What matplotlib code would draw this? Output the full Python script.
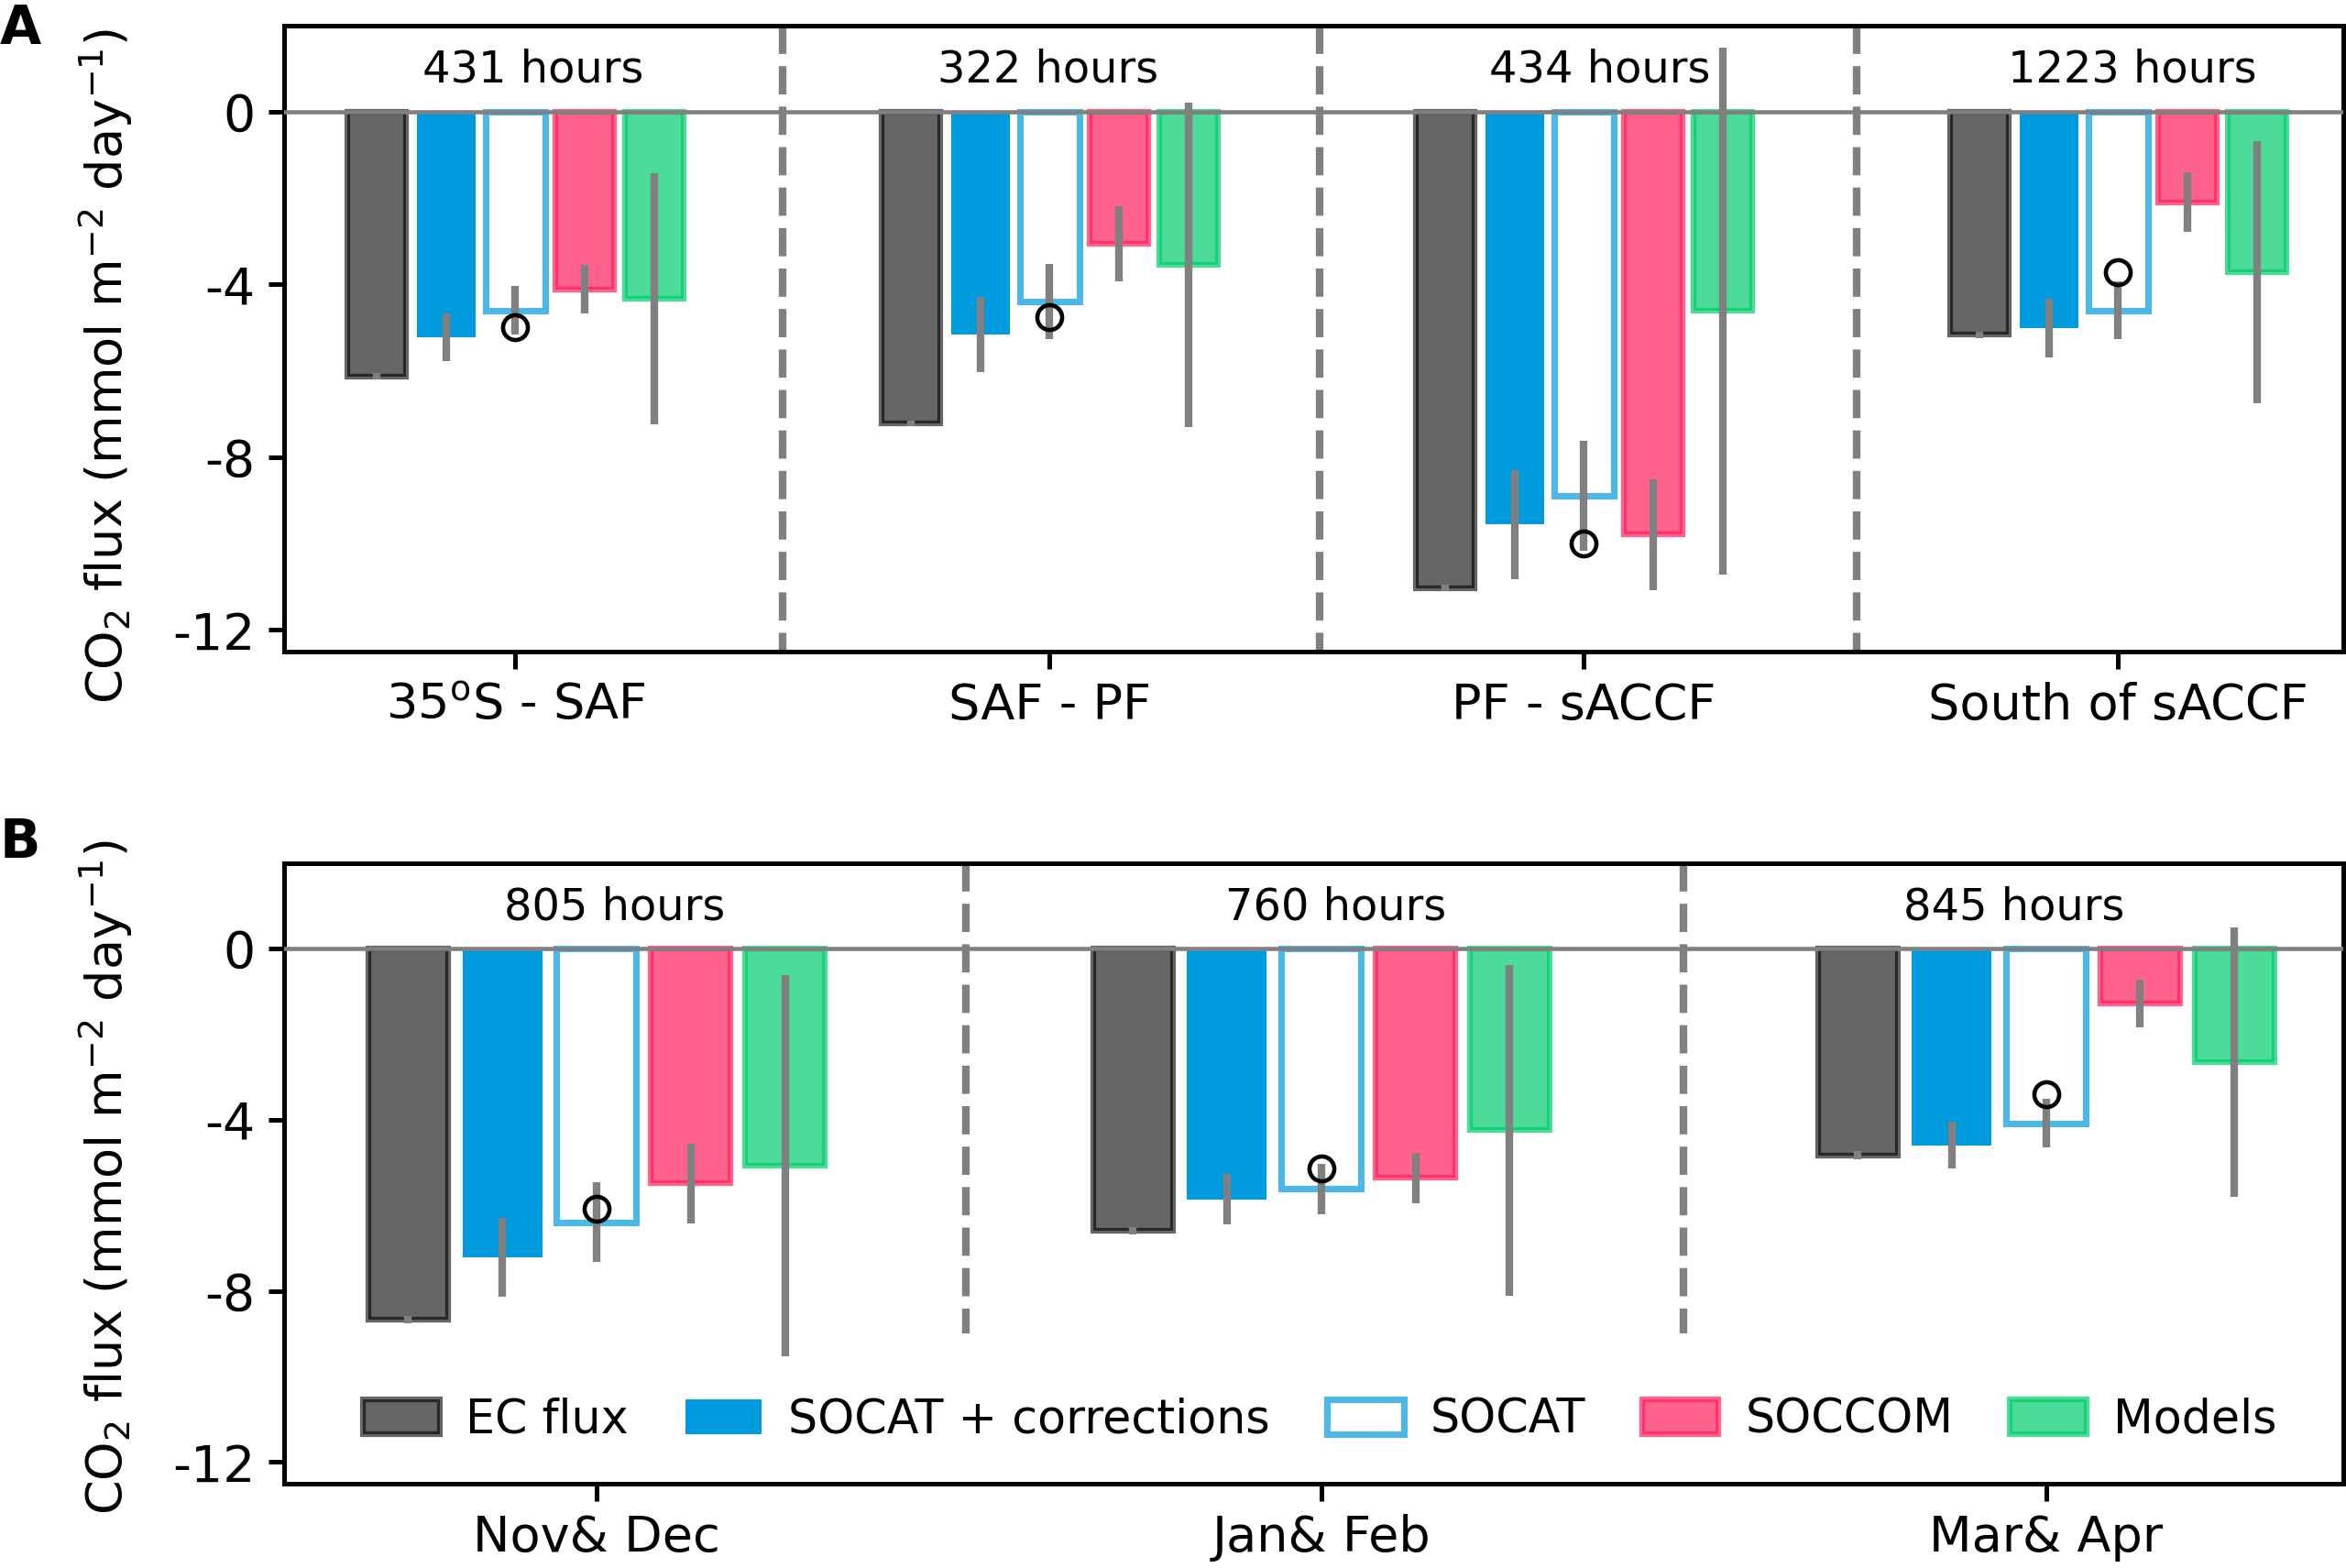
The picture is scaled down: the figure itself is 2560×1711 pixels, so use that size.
import matplotlib
matplotlib.use('Agg')
import matplotlib.pyplot as plt
import numpy as np

plt.rcParams['font.family'] = ['DejaVu Sans']
plt.rcParams['axes.unicode_minus'] = False

# ---------------- data: panel A (frontal zones) ----------------
regions = ['35$^\\mathrm{o}$S - SAF', 'SAF - PF', 'PF - sACCF', 'South of sACCF']
region_hours = ['431 hours', '322 hours', '434 hours', '1223 hours']
ec_a = [-6.13, -7.22, -11.03, -5.17]
ec_a_err = [0.07, 0.07, 0.08, 0.07]
socat_corr_a = [-5.23, -5.17, -9.56, -5.02]
socat_corr_a_err = [0.55, 0.87, 1.27, 0.68]
socat_a = [-4.60, -4.40, -8.90, -4.60]
socat_a_err = [0.56, 0.87, 1.27, 0.67]
socat_circle_a = [-5.00, -4.75, -9.99, -3.71]
soccom_a = [-4.11, -3.06, -9.79, -2.10]
soccom_a_err = [0.57, 0.88, 1.28, 0.69]
models_a = [-4.33, -3.55, -4.61, -3.72]
models_a_err = [2.90, 3.75, 6.10, 3.04]

# ---------------- data: panel B (seasons) ----------------
seasons = ['Nov& Dec', 'Jan& Feb', 'Mar& Apr']
season_hours = ['805 hours', '760 hours', '845 hours']
ec_b = [-8.67, -6.59, -4.83]
ec_b_err = [0.09, 0.09, 0.09]
socat_corr_b = [-7.22, -5.86, -4.60]
socat_corr_b_err = [0.92, 0.59, 0.55]
socat_b = [-6.40, -5.62, -4.08]
socat_b_err = [0.93, 0.59, 0.56]
socat_circle_b = [-6.08, -5.13, -3.40]
soccom_b = [-5.49, -5.36, -1.28]
soccom_b_err = [0.93, 0.59, 0.56]
models_b = [-5.07, -4.25, -2.66]
models_b_err = [4.45, 3.87, 3.15]

series_names = ['EC flux', 'SOCAT + corrections', 'SOCAT', 'SOCCOM', 'Models']

styles = [
    dict(color='k', alpha=0.6, edgecolor='k', linewidth=1.5),
    dict(color='#009ADE', linewidth=0),
    dict(facecolor='none', edgecolor='#009ADE', alpha=0.7, linewidth=1.7),
    dict(color='#FF1F5B', alpha=0.7, edgecolor='#FF1F5B', linewidth=1.5),
    dict(color='#00CD6C', alpha=0.7, edgecolor='#00CD6C', linewidth=1.5),
]
offsets = [-0.26, -0.13, 0.0, 0.13, 0.26]
bar_w = 0.11

fig = plt.figure(figsize=(2560 / 300, 1711 / 300), dpi=300)
axA = fig.add_axes([0.1211, 0.5845, 0.9988 - 0.1211, 0.9839 - 0.5845])
axB = fig.add_axes([0.1211, 0.0539, 0.9988 - 0.1211, 0.4497 - 0.0539])


def draw_panel(ax, labels, hours, vals, errs, circles, xlim, seps, sep_bottom,
               text_dx, label_y, legend=False):
    x = np.arange(len(labels))
    for i, (v, e) in enumerate(zip(vals, errs)):
        ax.bar(x + offsets[i], v, width=bar_w, label=series_names[i],
               zorder=2, **styles[i])
        ax.errorbar(x + offsets[i], v, yerr=e, fmt='none', ecolor='gray',
                    elinewidth=2.0, capsize=0, zorder=3)
    ax.plot(x + offsets[2], circles, 'o', mfc='none', mec='k', ms=6.5,
            mew=1.1, zorder=4)
    ax.axhline(0, color='gray', lw=1.1, zorder=5)
    for s in seps:
        ax.plot([s, s], [2, sep_bottom], color='gray', lw=2.0, ls='--',
                zorder=1)
    for xi, h, dx in zip(x, hours, text_dx):
        ax.text(xi + dx, 0.97, h, ha='center', va='center', fontsize=11.5)
    ax.set_xlim(*xlim)
    ax.set_ylim(-12.5, 2)
    ax.set_yticks([0, -4, -8, -12])
    ax.set_yticklabels(['0', '-4', '-8', '-12'])
    ax.set_xticks(x)
    ax.set_xticklabels(labels, fontsize=13)
    ax.tick_params(axis='y', labelsize=13.25, length=4, width=1.2)
    ax.tick_params(axis='x', length=4.5, width=1.2)
    for sp in ax.spines.values():
        sp.set_linewidth(1.2)
    ax.set_ylabel('CO$_2$ flux (mmol m$^{-2}$ day$^{-1}$)', fontsize=13)
    ax.yaxis.set_label_coords(-0.0725, label_y)
    if legend:
        ax.legend(loc='lower center', bbox_to_anchor=(0.503, -0.002), ncol=5,
                  frameon=False, fontsize=12.2, handlelength=1.64,
                  handleheight=0.77, handletextpad=0.57, columnspacing=1.22)


draw_panel(axA, regions, region_hours,
           [ec_a, socat_corr_a, socat_a, soccom_a, models_a],
           [ec_a_err, socat_corr_a_err, socat_a_err, soccom_a_err, models_a_err],
           socat_circle_a, (-0.433, 3.421), [0.5, 1.505, 2.51], -12.5,
           [0.033, -0.004, 0.03, 0.026], 0.456)
draw_panel(axB, seasons, season_hours,
           [ec_b, socat_corr_b, socat_b, soccom_b, models_b],
           [ec_b_err, socat_corr_b_err, socat_b_err, soccom_b_err, models_b_err],
           socat_circle_b, (-0.431, 2.41), [0.51, 1.5], -9.0,
           [0.025, 0.02, -0.044], 0.494, legend=True)

fig.text(0.0, 0.998, 'A', fontsize=14, fontweight='bold', ha='left', va='top')
fig.text(0.0, 0.479, 'B', fontsize=14, fontweight='bold', ha='left', va='top')

fig.savefig('out.png', dpi=300)
